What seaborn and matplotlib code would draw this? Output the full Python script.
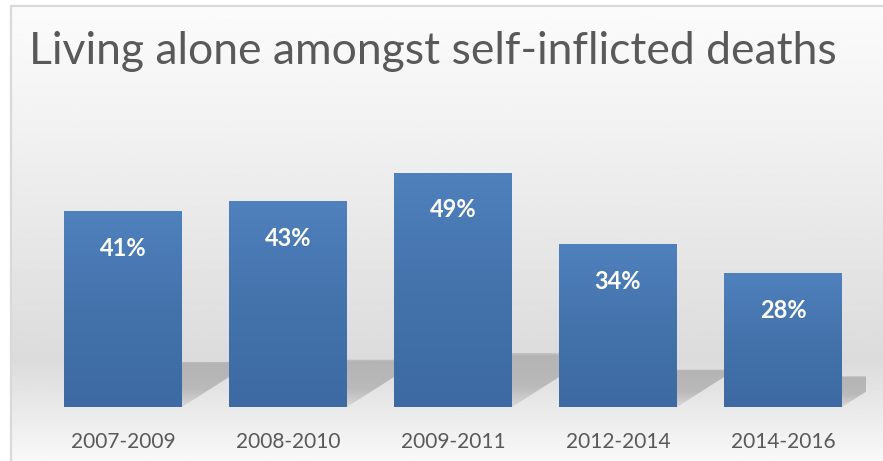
import numpy as np
import pandas as pd
import matplotlib
matplotlib.use("Agg")
import matplotlib.pyplot as plt
import seaborn as sns
from matplotlib.patches import Polygon
from matplotlib.colors import LinearSegmentedColormap

periods = ["2007-2009", "2008-2010", "2009-2011", "2012-2014", "2014-2016"]
shares = [41, 43, 49, 34, 28]
title_text = "Living alone amongst self-inflicted deaths"

W, H = 883, 461
DPI = 100
sns.set_style("white")
plt.rcParams["font.family"] = ["Lato", "DejaVu Sans"]

fig = plt.figure(figsize=(W / DPI, H / DPI), dpi=DPI, facecolor="white")

# ---- chart-area background: soft vertical grey gradient ----
cx0, cy_top = 11, 6
bg = fig.add_axes([cx0 / W, 0, 1 - cx0 / W, 1 - cy_top / H], zorder=0)
bg.set_axis_off()
t = np.linspace(0, 1, 400)
vals = np.interp(t, [0.0, 0.25, 0.55, 0.78, 1.0], [0.985, 0.95, 0.90, 0.86, 0.975])
bg.imshow(np.repeat(vals[:, None], 2, axis=1), cmap="gray", vmin=0, vmax=1,
          aspect="auto", extent=[0, 1, 0, 1], origin="upper", interpolation="bilinear")
bg.set_xlim(0, 1)
bg.set_ylim(0, 1)
# frame lines on the left and top
fig.add_artist(plt.Line2D([cx0 / W, cx0 / W], [0, 1 - cy_top / H], transform=fig.transFigure,
                          color="#d9d9d9", lw=1.6, zorder=1))
fig.add_artist(plt.Line2D([cx0 / W, 1], [1 - cy_top / H, 1 - cy_top / H], transform=fig.transFigure,
                          color="#d9d9d9", lw=1.6, zorder=1))

# ---- plot area ----
left_px, right_px, base_px = 40.5, 865.5, 407
px_per_unit = 4.78
ymax = 60
top_px = base_px - ymax * px_per_unit
ax = fig.add_axes([left_px / W, (H - base_px) / H, (right_px - left_px) / W,
                   (base_px - top_px) / H], zorder=2)
ax.patch.set_alpha(0)

df = pd.DataFrame({"period": periods, "share": shares})
sns.barplot(data=df, x="period", y="share", color="#4a7ab5", width=0.715,
            ax=ax, saturation=1)
ax.set_xlim(-0.5, len(periods) - 0.5)
ax.set_ylim(0, ymax)
for s in ax.spines.values():
    s.set_visible(False)
ax.set_yticks([])
ax.set_xlabel("")
ax.set_ylabel("")

bar_cmap = LinearSegmentedColormap.from_list("bar", ["#3d6aa3", "#4472ab", "#4f81bd"])
cat_px = (right_px - left_px) / len(periods)

shade = np.zeros((100, 2, 4))
shade[..., :3] = 0.70
shade[..., 3] = np.interp(np.linspace(0, 1, 100), [0, 0.05, 0.6, 1.0],
                          [0.6, 0.95, 0.85, 0.3])[:, None]

for p, val in zip(ax.patches, shares):
    x, w, h = p.get_x(), p.get_width(), p.get_height()
    # floor shadow cast up and to the right behind each bar
    sh = 0.23 * h
    dx = 1.57 * sh * px_per_unit / cat_px
    poly = Polygon([(x, 0), (x + w, 0), (x + w + dx, sh), (x + dx, sh)],
                   closed=True, facecolor="none", edgecolor="none")
    ax.add_patch(poly)
    im = ax.imshow(shade, extent=[x, x + w + dx, 0, sh], origin="upper",
                   aspect="auto", zorder=1, interpolation="bilinear")
    im.set_clip_path(poly)
    # vertical gradient fill of the bar
    p.set_facecolor("none")
    p.set_edgecolor("none")
    grad = np.linspace(1, 0, 200)[:, None] * np.ones((1, 2))
    gi = ax.imshow(grad, extent=[x, x + w, 0, h], origin="upper", cmap=bar_cmap,
                   vmin=0, vmax=1, aspect="auto", zorder=3, interpolation="bilinear")
    gi.set_clip_path(p)
    ax.text(x + w / 2, h - 37 / px_per_unit, f"{val}%", ha="center", va="center",
            color="white", fontsize=17, fontweight="bold", zorder=4)

ax.set_xlim(-0.5, len(periods) - 0.5)
ax.set_ylim(0, ymax)
ax.tick_params(axis="x", length=0, pad=18, labelsize=15, labelcolor="#595959")

fig.text(433 / W, 1 - 52 / H, title_text, ha="center", va="center",
         fontsize=32, color="#595959", zorder=5)

fig.savefig("out.png", dpi=DPI)
